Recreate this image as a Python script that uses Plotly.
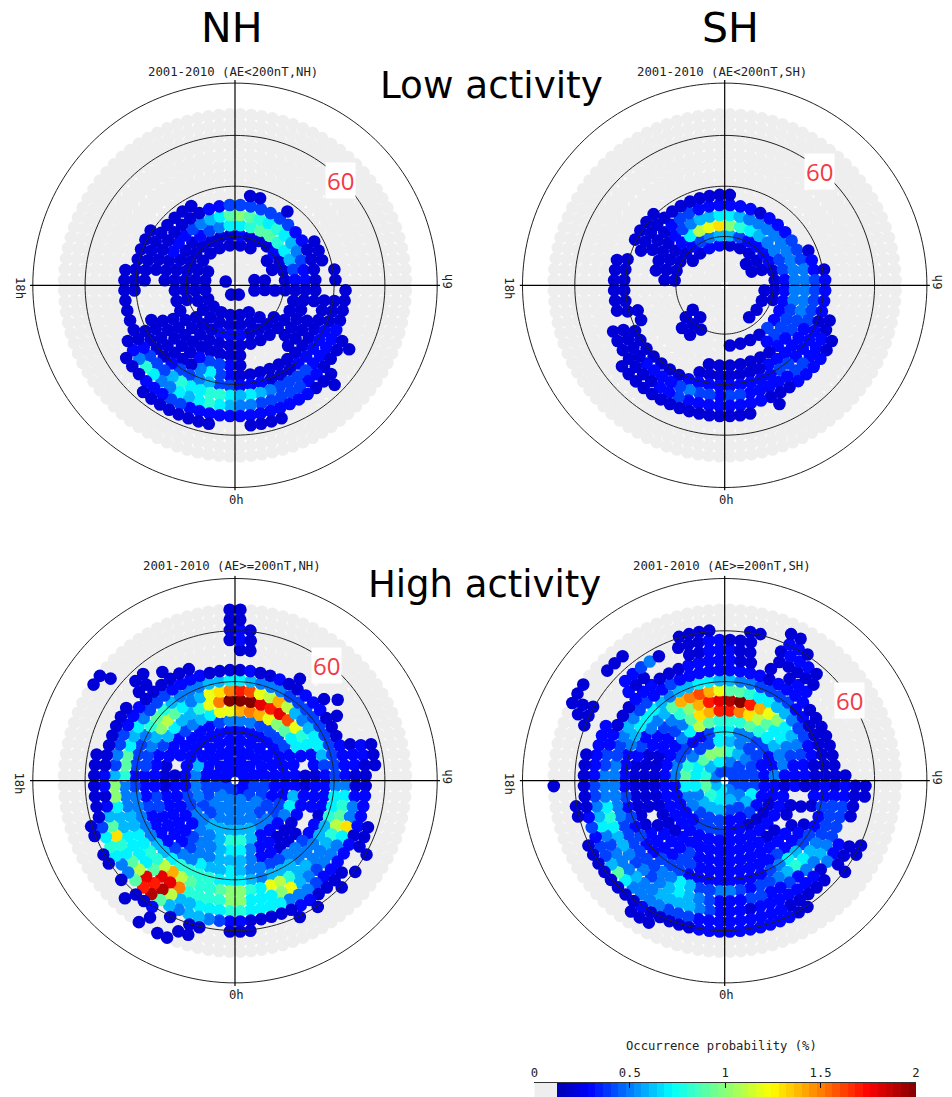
import plotly.graph_objects as go

W, H = 952, 1097

# colatitude (deg from the pole) of each ring of cells, and cells per quadrant
RING_COLAT = [2, 4, 6, 8, 10, 12, 14, 16, 18, 20, 22, 24, 26, 28, 30, 32, 34]
RING_CELLS = [2, 3, 5, 6, 8, 9, 11, 12, 14, 15, 17, 18, 20, 21, 23, 24, 25]

# Occurrence probability, base-36 digit = value x 10 (k = 2.0 %). One row per ring;
# four quadrants going noon->6h->0h->18h->noon; missing trailing cells are 0.
LOW_NH = [
    "00 02 20 20",
    "002 200 000 000",
    "00002 20022 22222 22",
    "220220 200222 222222 222222",
    "32223222 20022223 33222022 22222222",
    "789987643 222222222 222222222 222223457",
    "a9878765433 22222200002 22222222000 22233345679",
    "444444332222 220222200002 344322222000 022222222334",
    "02200200022200 02222222222222 34752222222000 22222222220000",
    "000000000000022 022233333222333 446544322220002 222222",
    "- 22223333344445676 78877864443222222 22",
    "- 000002222334444455 6787675578532 -",
    "- 00000020022233333333 3333344333222 -",
    "- 00000000002000002222 0022222222 -",
    "- - - -", "- - - -", "- - - -",
]
LOW_SH = [
    "- - - -",
    "- - - -",
    "00220 - - -",
    "222220 222200 002200 002233",
    "64333322 22 00222 22223456",
    "a87655443 333342222 00022 222237bcd",
    "76555555555 5544443 - 02222345667",
    "333233344455 555443322222 22 000222344333",
    "20000000002334 44443333332222 222000000022 00022222222222",
    "000000000000023 333233334433333 333322222220222 22202222",
    "- 00022333443333344 34454333322220222 222",
    "- 000002233332223333 33334332222222 -",
    "- 00000000000000200222 222222222222 -",
    "- - - -", "- - - -", "- - - -", "- - - -",
]
HIGH_NH = [
    "33 33 44 33",
    "333 445 554 333",
    "33333 44555 55544 33333",
    "333333 334455 554455 563333",
    "33333333 33445566 66655443 33333333",
    "554444333 367533368 865533333 203333345",
    "efeca977302 23332223357 76554333332 223334567cc",
    "kkihigc87332 333002223356 665543333443 333467668cfk",
    "hgcbeb65677643 33323345544556 76675543333433 34456ab9756cdf",
    "765554444444444 577866555666567 778888766555554 344458986555667",
    "23223223332223333 5789b8655668bc78a a9889beb887766555 89976754443333222",
    "000000200202002332 2355d7555456ca777a a8888fii97777667aa 64544333222222",
    "22000000000200003322 23333233333455577778 877766bjhib978d96323 3222222202202",
    "32000000000000000222 000022200222233222223 34566569jh95578742222 222000000022000000002",
    "32 00000002020200202000022 2002202032202022022 00000000000000000000002",
    "2 - 000022002002 000000000020000000000002",
    "2 - 0000002202 0000000002200000000000002",
]
HIGH_SH = [
    "44 45 76 54",
    "544 456 789 867",
    "86544 47644 66657 779aa",
    "654433 333433 444557 985447",
    "75544335 33222233 44433333 55443347",
    "889876553 233333333 333333333 333357b98",
    "hfdb9775433 30220223333 33333222222 22233459deh",
    "jkheca765433 202023333333 333433320222 22233458aehi",
    "99877665443322 23202333433333 33344333322222 223435569efgec",
    "655444433222222 334334467543333 333344433434343 333567776566776",
    "33332333322222222 23444456786544345 54467554444445555 55445654433433333",
    "322020233000000002 334444565534334433 345676545456678755 544332223332223333",
    "32200222220 22220033523333333233 34566665565554576544 33333300032200002233",
    "2220023332 220000222022222333333 333444555579644343222 222000000033452022233",
    "002200332 00000022020000223333333 333222223222222220022 0000022200000000002222",
    "00000022 - 0000000222 00000022000222",
    "- - 0000000000000000000000002 0000000222",
]
PANEL_TITLES = ["2001-2010 (AE&lt;200nT,NH)", "2001-2010 (AE&lt;200nT,SH)",
                "2001-2010 (AE&gt;=200nT,NH)", "2001-2010 (AE&gt;=200nT,SH)"]
RING_LINES = [9.7, 19.7, 29.8, 40.2]
BAR_LEVELS = [0.02 + 0.04 * k for k in range(50)]
BAR_TICKS = [0, 0.5, 1, 1.5, 2]

COLORSCALE = [[0, "#eeeeee"], [0.0625, "#eeeeee"], [0.0625, "#0000b4"], [0.145, "#0000ff"],
              [0.36, "#00ffff"], [0.62, "#ffff00"], [0.875, "#ff0000"], [1, "#800000"]]

CENTERS = [(235, 285.3), (724.7, 285.3), (235, 780.7), (724.7, 780.7)]
PX_PER_DEG = 5.03
R_MAX = 40.8
RADIUS_PX = R_MAX * PX_PER_DEG


def px(x):
    return x / W


def py(y):
    return 1 - y / H


def cells(rows):
    out = []
    for colat, m, row in zip(RING_COLAT, RING_CELLS, rows):
        for q, s in enumerate(row.split()):
            s = "" if s == "-" else s
            s = s.ljust(m, "0")
            for i, ch in enumerate(s):
                out.append((colat, 90 * q + (i + 0.5) * 90 / len(s), int(ch, 36) / 10))
    out.sort(key=lambda c: c[2] > 0)
    return out


fig = go.Figure()
layout = {}
for k, rows in enumerate([LOW_NH, LOW_SH, HIGH_NH, HIGH_SH]):
    name = "polar" if k == 0 else f"polar{k+1}"
    sub = name
    cx, cy = CENTERS[k]
    layout[name] = dict(
        domain=dict(x=[px(cx - RADIUS_PX), px(cx + RADIUS_PX)],
                    y=[py(cy + RADIUS_PX), py(cy - RADIUS_PX)]),
        bgcolor="rgba(0,0,0,0)",
        radialaxis=dict(range=[0, R_MAX], visible=False),
        angularaxis=dict(direction="clockwise", rotation=90, visible=False),
    )
    data = cells(rows)
    fig.add_trace(go.Scatterpolar(
        r=[c[0] for c in data], theta=[c[1] for c in data], mode="markers", subplot=sub,
        marker=dict(size=12.6, symbol="circle", color=[c[2] for c in data], cmin=0, cmax=2,
                    colorscale=COLORSCALE, showscale=False, line=dict(width=0)),
        showlegend=False, hoverinfo="skip"))
    for rr in RING_LINES:
        th = list(range(0, 361, 2))
        fig.add_trace(go.Scatterpolar(r=[rr] * len(th), theta=th, mode="lines", subplot=sub,
                                      line=dict(color="#222222", width=1), showlegend=False, hoverinfo="skip"))
    for th in (0, 90):
        fig.add_trace(go.Scatterpolar(r=[R_MAX, 0, R_MAX], theta=[th, th, th + 180], mode="lines", subplot=sub,
                                      line=dict(color="#000000", width=1.2), showlegend=False, hoverinfo="skip"))

fig.add_trace(go.Heatmap(x=BAR_LEVELS, y=[0.5], z=[BAR_LEVELS], zmin=0, zmax=2, colorscale=COLORSCALE,
                         showscale=False, hoverinfo="skip", xaxis="x", yaxis="y"))


def note(x, y, text, size, family="DejaVu Sans", color="#000000", angle=0, bg=None, pad=0):
    return dict(x=px(x), y=py(y), xref="paper", yref="paper", text=text, showarrow=False,
                xanchor="center", yanchor="middle", textangle=angle, borderpad=pad,
                bgcolor=bg, font=dict(family=family, size=size, color=color))


MONO = "DejaVu Sans Mono"
anns = [
    note(232, 28, "NH", 41), note(730, 28, "SH", 41),
    note(491, 85, "Low activity", 37.3), note(484, 584, "High activity", 37),
    note(232.5, 72, PANEL_TITLES[0], 12.3, MONO, "#222222"),
    note(722, 72, PANEL_TITLES[1], 12.3, MONO, "#222222"),
    note(232, 566, PANEL_TITLES[2], 12.3, MONO, "#222222"),
    note(722, 566, PANEL_TITLES[3], 12.3, MONO, "#222222"),
    note(340, 180.5, "60", 24, "Open Sans", "#f23a46", bg="#ffffff", pad=1),
    note(819, 171.5, "60", 24, "Open Sans", "#f23a46", bg="#ffffff", pad=1),
    note(326.7, 665, "60", 24, "Open Sans", "#f23a46", bg="#ffffff", pad=1),
    note(849.3, 700, "60", 24, "Open Sans", "#f23a46", bg="#ffffff", pad=1),
    note(721.5, 1046, "Occurrence probability (%)", 12.2, MONO, "#222222"),
]
for cx, cy in CENTERS:
    anns.append(note(cx + 1.7, cy + 214.7, "0h", 12.2, MONO, "#222222"))
    anns.append(note(cx + 213, cy - 3.6, "6h", 12.2, MONO, "#222222", angle=-90))
    anns.append(note(cx - 215.7, cy + 3, "18h", 12.2, MONO, "#222222", angle=90))

fig.update_layout(
    width=W, height=H, margin=dict(l=0, r=0, t=0, b=0, autoexpand=False),
    paper_bgcolor="#ffffff", plot_bgcolor="#ffffff",
    annotations=anns,
    xaxis=dict(domain=[px(534.3), px(916)], range=[0, 2], side="top", tickvals=BAR_TICKS,
               ticktext=["0", "0.5", "1", "1.5", "2"], ticks="inside", ticklen=5, tickcolor="#000000",
               showgrid=False, zeroline=False, showline=True, linecolor="#333333", mirror=True,
               tickfont=dict(family=MONO, size=12.2, color="#222222")),
    yaxis=dict(domain=[0, 14 / H], range=[0, 1], visible=False),
    **layout,
)
# drop the browser's default page margin so the figure fills the window exactly
fig.write_html("out.html", config={"displayModeBar": False},
               post_script="document.body.style.margin='0';document.documentElement.style.overflow='hidden';")
